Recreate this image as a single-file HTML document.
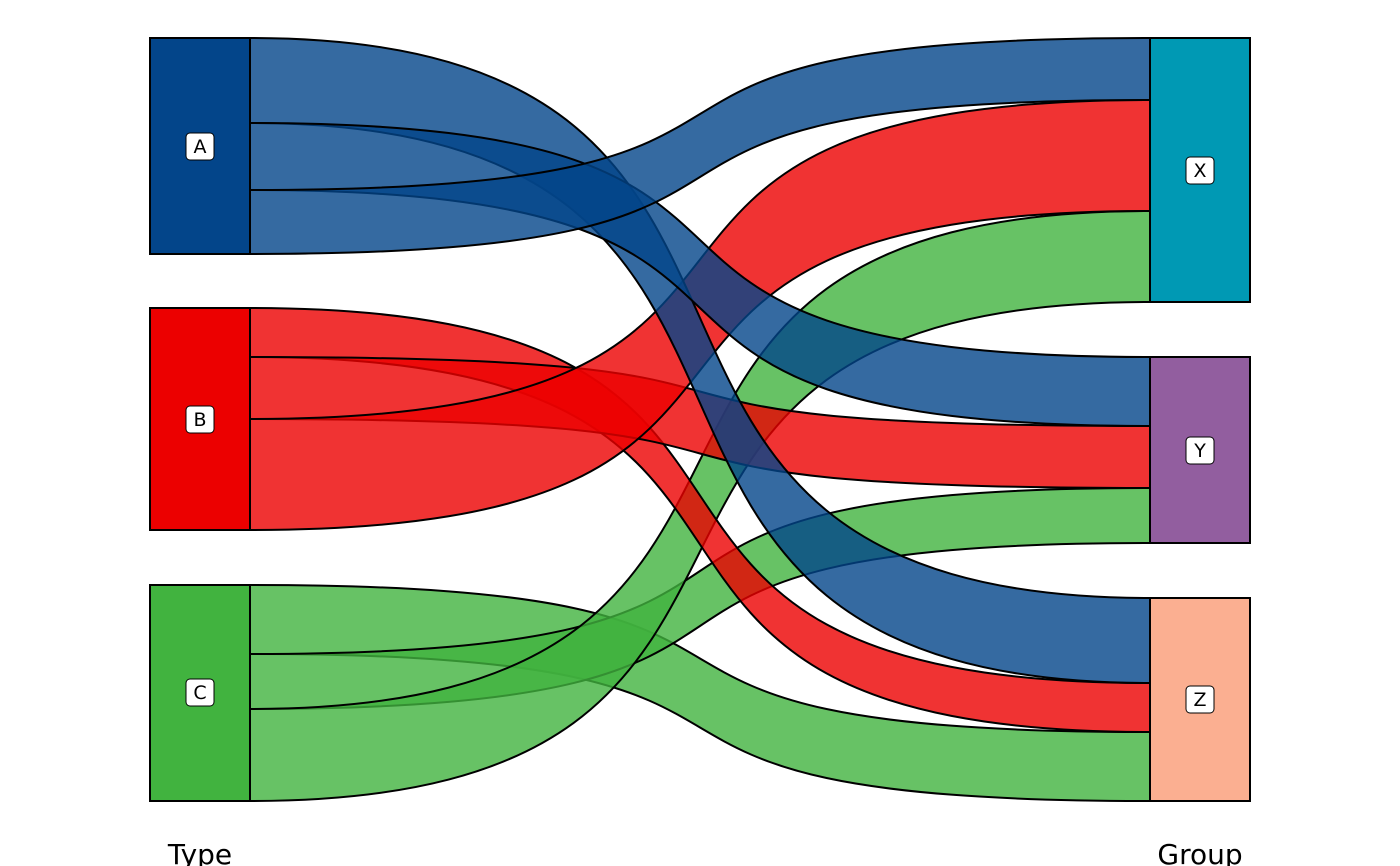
<!DOCTYPE html>
<html><head><style>body{margin:0;background:#fff}svg{display:block}</style></head><body>
<svg width="1400" height="866" xmlns="http://www.w3.org/2000/svg" font-family="DejaVu Sans, Liberation Sans, sans-serif">
<g stroke="#000" stroke-width="2" fill-opacity="0.8">
<path fill="#41b33f" d="M250,585 C900,585 500,732 1150,732 L1150,801 C500,801 900,654 250,654 Z"/>
<path fill="#41b33f" d="M250,654 C900,654 500,488 1150,488 L1150,543 C500,543 900,709 250,709 Z"/>
<path fill="#41b33f" d="M250,709 C900,709 500,211 1150,211 L1150,302 C500,302 900,801 250,801 Z"/>
<path fill="#ec0000" d="M250,308 C900,308 500,683 1150,683 L1150,732 C500,732 900,357 250,357 Z"/>
<path fill="#ec0000" d="M250,357 C900,357 500,426 1150,426 L1150,488 C500,488 900,419 250,419 Z"/>
<path fill="#ec0000" d="M250,419 C900,419 500,100 1150,100 L1150,211 C500,211 900,530 250,530 Z"/>
<path fill="#03458a" d="M250,38 C900,38 500,598 1150,598 L1150,683 C500,683 900,123 250,123 Z"/>
<path fill="#03458a" d="M250,123 C900,123 500,357 1150,357 L1150,426 C500,426 900,190 250,190 Z"/>
<path fill="#03458a" d="M250,190 C900,190 500,38 1150,38 L1150,100 C500,100 900,254 250,254 Z"/>
</g>
<g stroke="#000" stroke-width="2">
<rect x="150" y="38" width="100" height="216" fill="#03458a"/>
<rect x="150" y="308" width="100" height="222" fill="#ec0000"/>
<rect x="150" y="585" width="100" height="216" fill="#41b33f"/>
<rect x="1150" y="38" width="100" height="264" fill="#0099b4"/>
<rect x="1150" y="357" width="100" height="186" fill="#925e9f"/>
<rect x="1150" y="598" width="100" height="203" fill="#fbaf91"/>
</g>
<g stroke="#000" stroke-width="1" fill="#fff">
<rect x="186" y="133" width="28" height="27" rx="4"/>
<rect x="186" y="406" width="28" height="27" rx="4"/>
<rect x="186" y="679" width="28" height="27" rx="4"/>
<rect x="1186" y="157" width="28" height="27" rx="4"/>
<rect x="1186" y="437" width="28" height="27" rx="4"/>
<rect x="1186" y="686" width="28" height="27" rx="4"/>
</g>
<g font-size="19" text-anchor="middle" fill="#000">
<text x="200" y="153">A</text>
<text x="200" y="426">B</text>
<text x="200" y="699">C</text>
<text x="1200" y="177">X</text>
<text x="1200" y="457">Y</text>
<text x="1200" y="706">Z</text>
</g>
<g font-size="28" text-anchor="middle" fill="#000">
<text x="200" y="864">Type</text>
<text x="1200" y="864">Group</text>
</g>
</svg>
</body></html>
